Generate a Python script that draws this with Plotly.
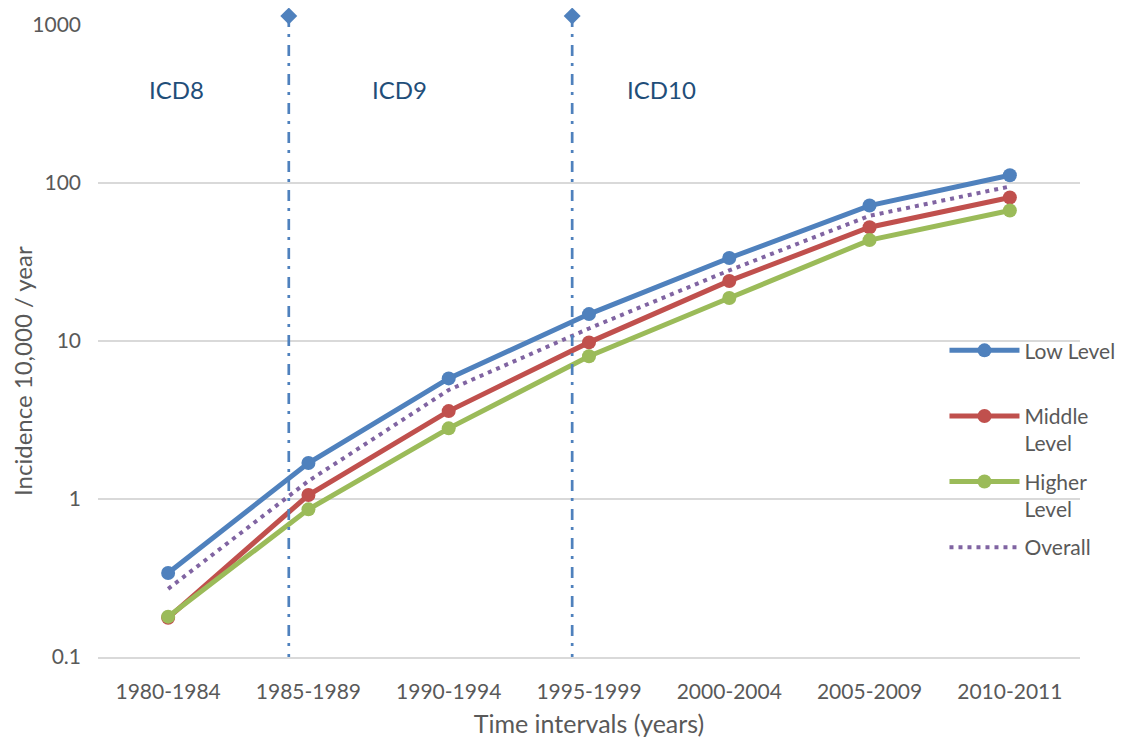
import plotly.graph_objects as go

# categories and series
periods = ['1980-1984', '1985-1989', '1990-1994', '1995-1999',
           '2000-2004', '2005-2009', '2010-2011']
low_level = [0.34, 1.69, 5.8, 14.8, 33.5, 72, 112]
middle_level = [0.177, 1.06, 3.6, 9.8, 24, 52.5, 81]
higher_level = [0.18, 0.86, 2.8, 8.0, 18.7, 43.5, 67]
overall = [0.27, 1.3, 4.9, 12.0, 28, 62, 95]

# ICD revision change points (category index units) and labels
icd_change_x = [0.86, 2.88]
icd_change_top = 1140
icd_labels = ['ICD8', 'ICD9', 'ICD10']
icd_label_x = [0.06, 1.65, 3.52]
icd_label_y = 388

FONT = 'Lato'
GREY = '#595959'
x_idx = list(range(len(periods)))

# the page body adds an 8px offset, so the figure is 8px smaller each way
W, H = 1117, 734
# plot box: 632 px for 4 decades, plus 10 px headroom for the diamonds
PLOT_H = 642
HEAD = 10

fig = go.Figure()

series = [
    ('Low Level<br> ', low_level, '#4F81BD'),
    ('Middle<br>Level', middle_level, '#C0504D'),
    ('Higher<br>Level', higher_level, '#9BBB59'),
]
for name, vals, col in series:
    fig.add_trace(go.Scatter(x=x_idx, y=vals, mode='lines+markers', name=name,
                             legendgroup=name,
                             line=dict(color=col, width=5),
                             marker=dict(size=14, color=col)))

fig.add_trace(go.Scatter(x=x_idx, y=overall, mode='lines', name='Overall',
                         legendgroup='overall',
                         line=dict(color='#8064A2', width=4, dash='4px,5px')))

# ICD change lines live on a second y axis that reaches a little higher
for xv in icd_change_x:
    fig.add_trace(go.Scatter(x=[xv, xv], y=[icd_change_top, 0.1],
                             mode='lines', xaxis='x', yaxis='y2',
                             line=dict(color='#4F81BD', width=2.7,
                                       dash='11px,7px,3px,8px'),
                             showlegend=False, hoverinfo='skip'))
fig.add_trace(go.Scatter(x=icd_change_x, y=[icd_change_top] * len(icd_change_x),
                         mode='markers', xaxis='x', yaxis='y2', cliponaxis=False,
                         marker=dict(symbol='diamond', size=13, color='#4F81BD'),
                         showlegend=False, hoverinfo='skip'))

for txt, xv in zip(icd_labels, icd_label_x):
    fig.add_annotation(x=xv, y=2.589, xref='x', yref='y', text=txt,
                       showarrow=False,
                       font=dict(family=FONT, size=24, color='#1F4E79'))

# y axis title sits a bit below the middle of the plot, as in the original
fig.add_annotation(x=-0.0764, y=0.4455, xref='paper', yref='paper',
                   text='Incidence 10,000 / year', textangle=-90,
                   showarrow=False, xanchor='center', yanchor='middle',
                   font=dict(family=FONT, size=24, color=GREY))

fig.update_layout(
    width=W, height=H,
    margin=dict(l=90, r=45, t=7, b=85, autoexpand=False),
    paper_bgcolor='white', plot_bgcolor='rgba(0,0,0,0)',
    font=dict(family=FONT, size=21, color=GREY),
    legend=dict(x=0.862, y=0.509, xanchor='left', yanchor='top',
                bgcolor='rgba(0,0,0,0)', valign='top',
                tracegroupgap=8, itemwidth=70,
                font=dict(family=FONT, size=21, color=GREY)),
    xaxis=dict(range=[-0.5, 6.5], tickvals=x_idx, ticktext=periods,
               showgrid=False, showline=True, linecolor='#D9D9D9',
               linewidth=1.5, ticks='', ticklabelstandoff=15,
               zeroline=False,
               title=dict(text='Time intervals (years)', standoff=14)),
    yaxis=dict(type='log', range=[-1, 3], domain=[0, 1 - HEAD / PLOT_H],
               tickvals=[0.1, 1, 10, 100, 1000],
               ticktext=['0.1', '1', '10', '100', '1000'],
               showgrid=True, gridcolor='#D9D9D9', gridwidth=1.5,
               zeroline=False, ticks='', ticklabelstandoff=16),
    yaxis2=dict(type='log', range=[-1, 3 + HEAD / 158], domain=[0, 1],
                anchor='x', showgrid=False, zeroline=False, showline=False,
                showticklabels=False, ticks=''),
)

fig.write_html('out.html')
